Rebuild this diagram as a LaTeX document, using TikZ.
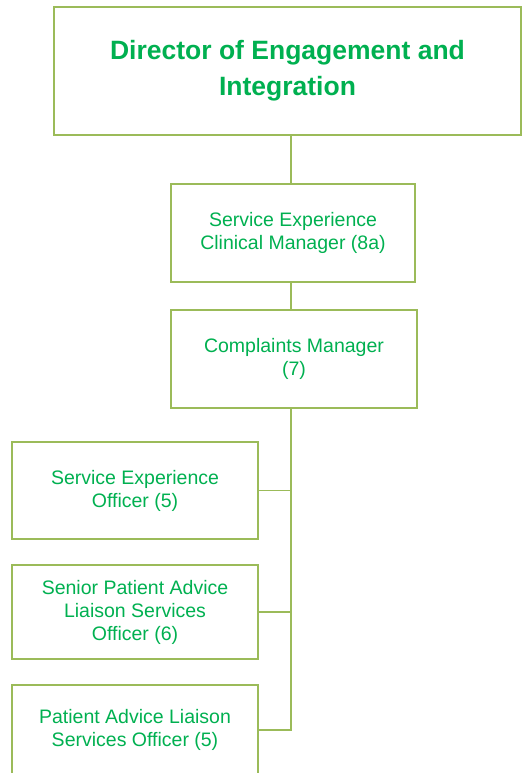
\documentclass[tikz,border=0pt]{standalone}
\usepackage{fontspec}
\setmainfont{Liberation Sans}
\usepackage{tikz}

\definecolor{boxline}{HTML}{9BBB59}
\definecolor{boxtext}{HTML}{00B050}

\tikzset{
  post/.style={draw=boxline, line width=1.2pt, text=boxtext, align=center,
    inner sep=0pt, font=\fontsize{19.5}{23}\selectfont},
  link/.style={draw=boxline, line width=1.2pt}
}

\begin{document}
\begin{tikzpicture}[x=1pt,y=-1pt]
    \useasboundingbox (0,0) rectangle (522,773);
    \begin{scope}
    \clip (0,0) rectangle (522,773);
    \node[post, minimum width=467pt, minimum height=128pt,
          font=\fontsize{26.5}{36}\selectfont\bfseries] (director) at (287.5,71)
       {Director of Engagement and\\Integration};
    \node[post, minimum width=244pt, minimum height=98pt] (clinmgr) at (293,233)
       {Service Experience\\Clinical Manager (8a)};
    \node[post, minimum width=246pt, minimum height=98pt] (compmgr) at (294,359)
       {Complaints Manager\\(7)};
    \node[post, minimum width=246pt, minimum height=97pt] (seo) at (135,490.5)
       {Service Experience\\Officer (5)};
    \node[post, minimum width=246pt, minimum height=94pt] (spals) at (135,612)
       {Senior Patient Advice\\Liaison Services\\Officer (6)};
    \node[post, minimum width=246pt, minimum height=90pt] (pals) at (135,730)
       {Patient Advice Liaison\\Services Officer (5)};

    \coordinate (trunk) at (291,0);
    \draw[link] (director.south -| trunk) -- (clinmgr.north -| trunk);
    \draw[link] (clinmgr.south -| trunk) -- (compmgr.north -| trunk);
    \draw[link] (compmgr.south -| trunk) -- (trunk |- pals.east) -- (pals.east);
    \draw[link] (seo.east) -- (seo.east -| trunk);
    \draw[link] (spals.east) -- (spals.east -| trunk);
    \end{scope}
  \end{tikzpicture}
\end{document}
